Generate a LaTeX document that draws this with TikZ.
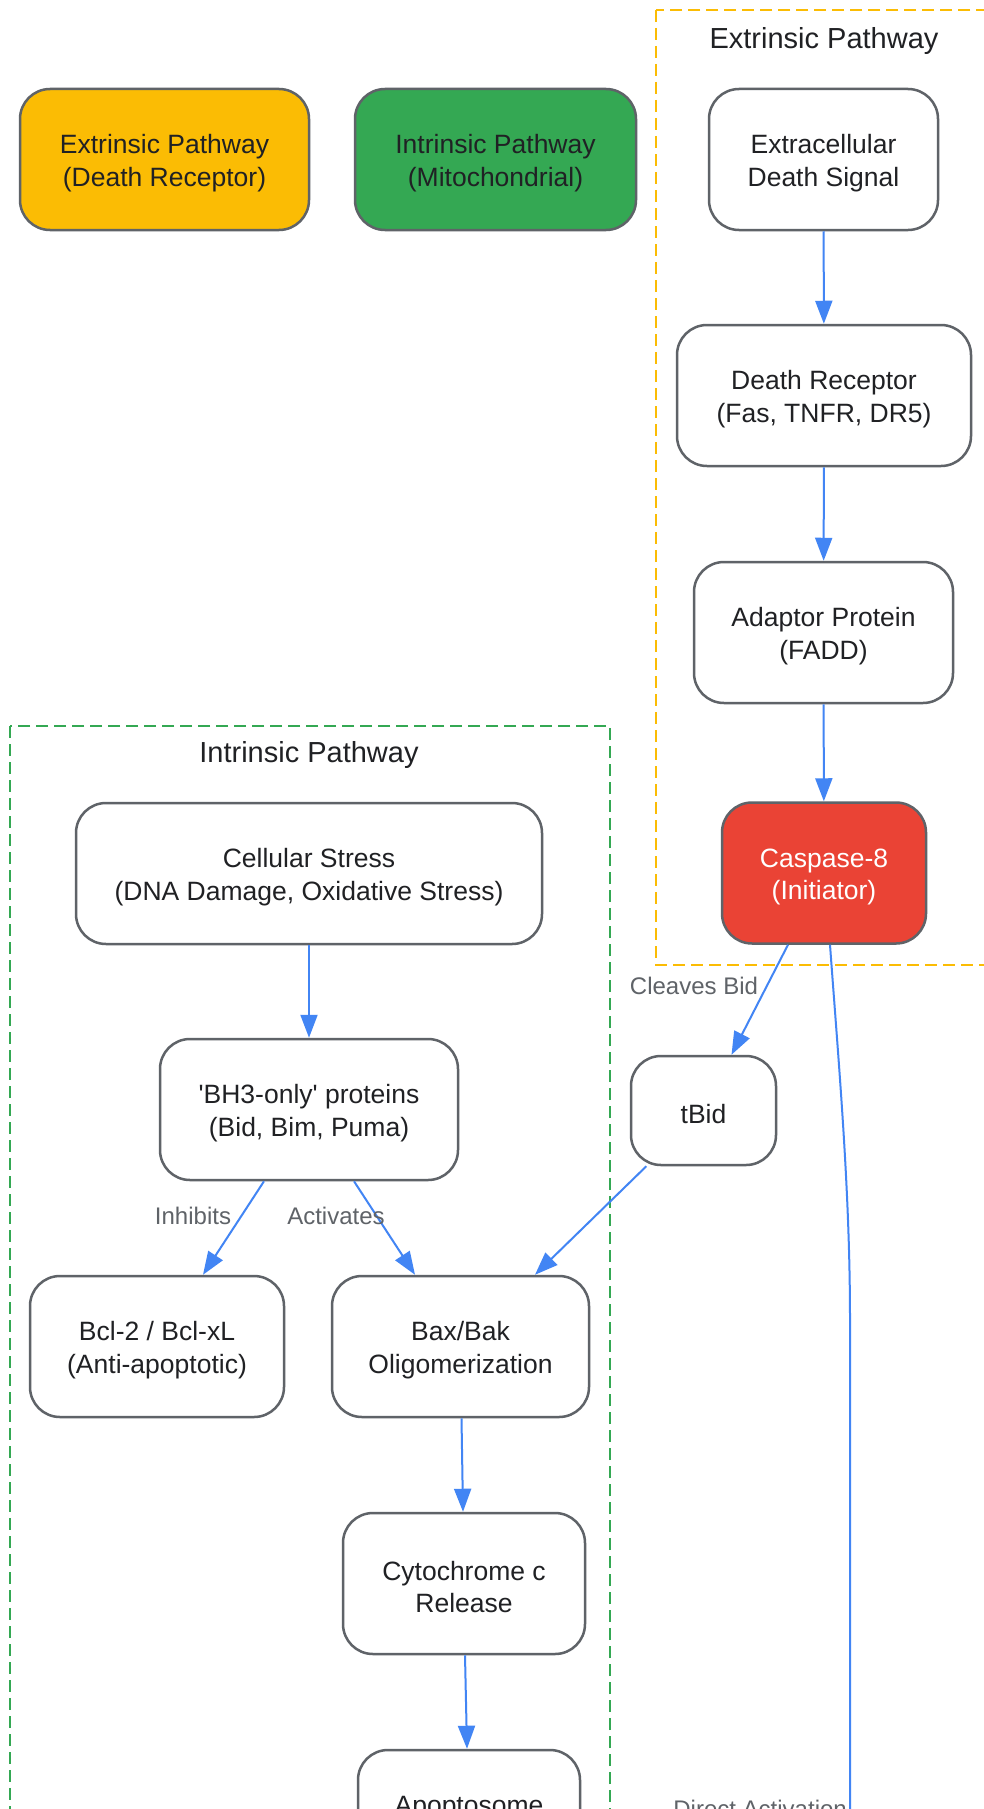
\documentclass[tikz,border=0pt]{standalone}
\usepackage{fontspec}
\setmainfont{Liberation Sans}
\usetikzlibrary{arrows.meta}
\definecolor{extyellow}{HTML}{FBBC04}
\definecolor{intgreen}{HTML}{34A853}
\definecolor{casred}{HTML}{EA4335}
\definecolor{flowblue}{HTML}{4285F4}
\definecolor{boxgray}{HTML}{5F6368}
\definecolor{inkdark}{HTML}{202124}

\begin{document}
\begin{tikzpicture}[x=1pt, y=-1pt,
  every node/.style = {text=inkdark, font=\fontsize{26.5}{32.5}\selectfont},
  stepbox/.style = {shape=rectangle, rounded corners=30pt,
    draw=boxgray, line width=2.5pt, fill=white, align=center,
    minimum height=141pt, inner sep=0pt,
    execute at begin node={\rule{0pt}{#1}}},
  stepbox/.default = 58.5pt,
  clusterbox/.style = {dash pattern=on 12pt off 6pt, line width=2pt},
  clustertitle/.style = {font=\fontsize{29}{35}\selectfont},
  flow/.style = {draw=flowblue, line width=2pt, -{Triangle[length=23pt,width=17pt]}},
  edgelabel/.style = {text=boxgray, inner sep=0pt, font=\fontsize{24}{29}\selectfont}]
  \useasboundingbox (0,0) rectangle (984,1809);
  \clip (0,0) rectangle (984,1809);
  \fill[white] (0,0) rectangle (984,1809);
  \draw[clusterbox, extyellow] (656,10) rectangle (1010,965);
  \draw[clusterbox, intgreen] (10,726) rectangle (610,1900);
  \node[clustertitle] (exttitle) at (824,41) {Extrinsic Pathway};
  \node[clustertitle] (inttitle) at (309,755) {Intrinsic Pathway};

  \node[stepbox, fill=extyellow, minimum width=289pt] (extlegend) at (164.5,159.5)
    {Extrinsic Pathway\\(Death Receptor)};
  \node[stepbox, fill=intgreen, minimum width=281pt] (intlegend) at (495.5,159.5)
    {Intrinsic Pathway\\(Mitochondrial)};
  \node[stepbox, minimum width=229pt] (signal) at (823.5,159.5)
    {Extracellular\\Death Signal};
  \node[stepbox, minimum width=294pt] (receptor) at (824,395.5)
    {Death Receptor\\(Fas, TNFR, DR5)};
  \node[stepbox, minimum width=259pt] (adaptor) at (823.5,632.5)
    {Adaptor Protein\\(FADD)};
  \node[stepbox, fill=casred, text=white, minimum width=204pt] (casp8) at (824,873)
    {Caspase-8\\(Initiator)};
  \node[stepbox, minimum width=466pt] (stress) at (309,873.5)
    {Cellular Stress\\(DNA Damage, Oxidative Stress)};
  \node[stepbox, minimum width=298pt] (bh3) at (309,1109.5)
    {\textquotesingle BH3-only\textquotesingle{} proteins\\(Bid, Bim, Puma)};
  \node[stepbox=26pt, minimum width=145pt, minimum height=109pt] (tbid) at (703.5,1110.5) {tBid};
  \node[stepbox, minimum width=254pt] (bcl2) at (157,1346.5)
    {Bcl-2 / Bcl-xL\\(Anti-apoptotic)};
  \node[stepbox, minimum width=257pt] (baxbak) at (460.5,1346.5)
    {Bax/Bak\\Oligomerization};
  \node[stepbox, minimum width=242pt] (cytoc) at (464,1583.5)
    {Cytochrome c\\Release};
  \node[stepbox=26pt, minimum width=222pt, minimum height=109pt] (apopto) at (469,1804.5) {Apoptosome};
  \coordinate (offpage) at (850,1900);

  \draw[flow] (signal) -- (receptor);
  \draw[flow] (receptor) -- (adaptor);
  \draw[flow] (adaptor) -- (casp8);
  \draw[flow] ([xshift=-36pt]casp8.south) -- ([xshift=28pt]tbid.north);
  \node[edgelabel] (cleaves) at (694,986) {Cleaves Bid};
  \draw[flow] ([xshift=6pt]casp8.south) .. controls (839,1068) and (850,1190) .. (850,1320) -- (offpage);
  \node[edgelabel, anchor=north east] (direct) at (847,1800) {Direct Activation};
  \draw[flow] (stress) -- (bh3);
  \draw[flow] ([xshift=-45pt]bh3.south) -- ([xshift=46pt]bcl2.north);
  \node[edgelabel] (inhibits) at (193,1216) {Inhibits};
  \draw[flow] ([xshift=45pt]bh3.south) -- ([xshift=-45.5pt]baxbak.north);
  \node[edgelabel] (activates) at (336,1216) {Activates};
  \draw[flow] (tbid) -- ([xshift=74.5pt]baxbak.north);
  \draw[flow] ([xshift=1pt]baxbak.south) -- ([xshift=-1pt]cytoc.north);
  \draw[flow] ([xshift=1pt]cytoc.south) -- ([xshift=-2pt]apopto.north);
\end{tikzpicture}
\end{document}
